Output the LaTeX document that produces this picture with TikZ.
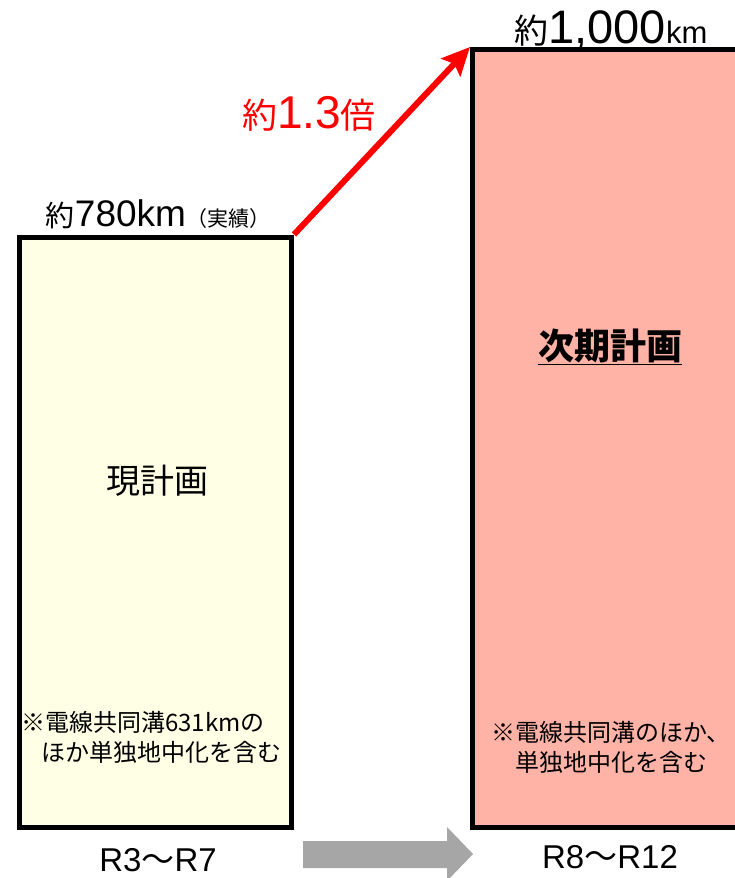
\documentclass[tikz,border=0pt]{standalone}
\usepackage{fontspec}
\setmainfont{Noto Sans CJK JP}
\newfontfamily\lat{Liberation Sans}
\usetikzlibrary{arrows.meta}
\definecolor{nowfill}{HTML}{FFFFE6}
\definecolor{nextfill}{HTML}{FFB3A7}
\definecolor{stepgray}{HTML}{A6A6A6}
\newcommand{\fs}[1]{\fontsize{#1}{1.25\dimexpr#1pt\relax}\selectfont}
\begin{document}
\begin{tikzpicture}[x=1pt,y=-1pt,>={Stealth[length=28pt,width=26pt,inset=5pt]},
	plan/.style={draw=black,line width=5pt,inner sep=0pt,minimum width=272pt},
	note/.style={inner sep=0pt,font=\fontsize{24}{30}\selectfont}]
		\path[use as bounding box,clip] (0,0) rectangle (735,878);
		% the two plans
		\node[plan,fill=nowfill,minimum height=590pt] (now) at (155.5,532) {};
		\node[plan,fill=nextfill,minimum width=277pt,minimum height=777.5pt] (next) at (611,438.25) {};
		\draw[->,red,line width=6pt] (now.north east) -- (next.north west);
		% period arrow
		\fill[stepgray] (303,841) -- (447,841) -- (447,827) -- (473,854) -- (447,881) -- (447,868) -- (303,868) -- cycle;
		% labels
		\node[anchor=base,inner sep=0pt] (nowkm) at (158,226) {\fs{29}約{\lat\fs{37}780km}\fs{21}（実績）};
		\node[anchor=base,inner sep=0pt] (nextkm) at (611,43) {\fs{34}約{\lat\fs{47}1,000\fs{31}km}};
		\node[anchor=base,inner sep=0pt,red] (ratio) at (309,128) {\fs{35}約{\lat\fs{46}1.3}倍};
		\node (nowname) at (157,481) {\fs{34}現計画};
		\node (nextname) at (610,347) {\fs{36}\bfseries\underline{次期計画}};
		\node[note,anchor=west,align=left] (nownote) at (21,737) {※電線共同溝631kmの\\\hspace*{20pt}ほか単独地中化を含む};
		\node[note,align=center] (nextnote) at (611,747) {※電線共同溝のほか、\\単独地中化を含む};
		\node (nowterm) at (158,860) {\lat\fs{33}R3{\rmfamily ～}R7};
		\node (nextterm) at (610,857) {\lat\fs{33}R8{\rmfamily ～}R12};
\end{tikzpicture}
\end{document}
